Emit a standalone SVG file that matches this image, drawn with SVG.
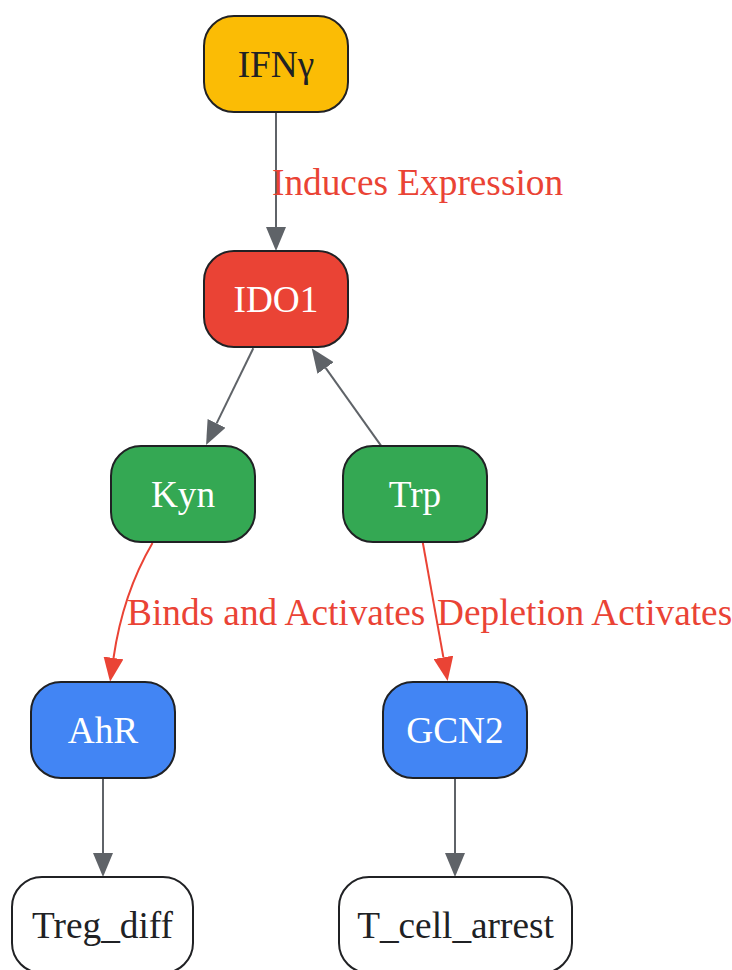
<svg xmlns="http://www.w3.org/2000/svg" width="732" height="970" viewBox="0 0 732 970">
<style>
.n{stroke:#202124;stroke-width:2}
.t{font-family:"Liberation Serif","Times New Roman",serif;font-size:37.3px;text-anchor:middle}
.lbl{font-family:"Liberation Serif","Times New Roman",serif;font-size:37.3px;fill:#EA4335}
.g{fill:none;stroke:#5F6368;stroke-width:2}
.r{fill:none;stroke:#EA4335;stroke-width:2}
</style>
<defs>
<marker id="ag" markerUnits="userSpaceOnUse" markerWidth="24" markerHeight="20" refX="0" refY="10" orient="auto" viewBox="0 0 24 20"><path d="M0,0 L24,10 L0,20 z" fill="#5F6368"/></marker>
<marker id="ar" markerUnits="userSpaceOnUse" markerWidth="24" markerHeight="20" refX="0" refY="10" orient="auto" viewBox="0 0 24 20"><path d="M0,0 L24,10 L0,20 z" fill="#EA4335"/></marker>
</defs>
<rect width="732" height="970" fill="#fff"/>
<g id="edges">
<path class="g" d="M276,112 L276,227" marker-end="url(#ag)"/>
<path class="g" d="M253.3,348.3 L216.6,423.4" marker-end="url(#ag)"/>
<path class="g" d="M381.7,446.7 L325.6,367.9" marker-end="url(#ag)"/>
<path class="r" d="M152.5,543 C132,578 119,620 113.5,658" marker-end="url(#ar)"/>
<path class="r" d="M422.7,542 L443.4,657.4" marker-end="url(#ar)"/>
<path class="g" d="M103,778 L103,853" marker-end="url(#ag)"/>
<path class="g" d="M455,778 L455,853" marker-end="url(#ag)"/>
<text class="lbl" x="272" y="195">Induces Expression</text>
<text class="lbl" x="127" y="625">Binds and Activates</text>
<text class="lbl" x="437" y="625">Depletion Activates</text>
</g>
<g id="IFNg"><rect class="n" x="204" y="16" width="144" height="96" rx="30" fill="#FBBC05"/><text class="t" x="276" y="77" fill="#202124">IFNγ</text></g>
<g id="IDO1"><rect class="n" x="204" y="251" width="144" height="96" rx="30" fill="#EA4335"/><text class="t" x="276" y="312" fill="#fff">IDO1</text></g>
<g id="Kyn"><rect class="n" x="111" y="446" width="144" height="96" rx="30" fill="#34A853"/><text class="t" x="183" y="507" fill="#fff">Kyn</text></g>
<g id="Trp"><rect class="n" x="343" y="446" width="144" height="96" rx="30" fill="#34A853"/><text class="t" x="415" y="507" fill="#fff">Trp</text></g>
<g id="AhR"><rect class="n" x="31" y="682" width="144" height="96" rx="30" fill="#4285F4"/><text class="t" x="103" y="743" fill="#fff">AhR</text></g>
<g id="GCN2"><rect class="n" x="383" y="682" width="144" height="96" rx="30" fill="#4285F4"/><text class="t" x="455" y="743" fill="#fff">GCN2</text></g>
<g id="Treg_diff"><rect class="n" x="12" y="877" width="181" height="96" rx="30" fill="#fff"/><text class="t" x="102.5" y="938" fill="#202124">Treg_diff</text></g>
<g id="T_cell_arrest"><rect class="n" x="339" y="877" width="233" height="96" rx="30" fill="#fff"/><text class="t" x="455.5" y="938" fill="#202124">T_cell_arrest</text></g>
</svg>
